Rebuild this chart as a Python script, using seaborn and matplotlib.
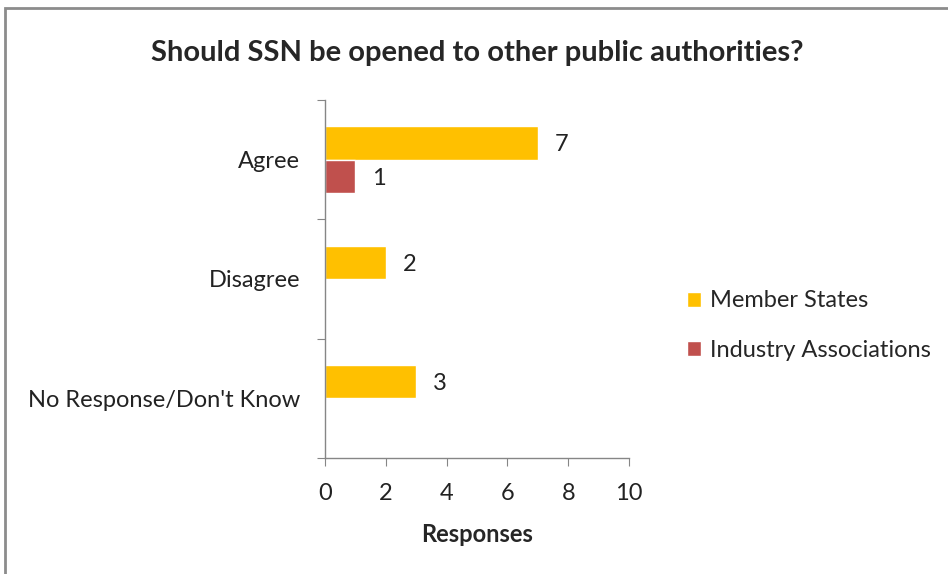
import pandas as pd
import numpy as np
import matplotlib.pyplot as plt
import seaborn as sns
from matplotlib.patches import Rectangle

# --- data ---
categories = ["Agree", "Disagree", "No Response/Don't Know"]
series = ["Member States", "Industry Associations"]
member_states = [7, 2, 3]
industry_assoc = [1, 0, 0]
colors = ["#FFC000", "#C0504D"]

df = pd.DataFrame({
    "category": categories * 2,
    "group": [series[0]] * 3 + [series[1]] * 3,
    "value": member_states + industry_assoc,
})

sns.set_style("white")
plt.rcParams['font.family'] = ['Lato', 'DejaVu Sans']

fig = plt.figure(figsize=(9.48, 5.74), dpi=100)
ax = fig.add_axes([0.3428, 0.2021, 0.3207, 0.6237])

sns.barplot(data=df, y="category", x="value", hue="group", orient="h",
            order=categories, hue_order=series, palette=colors,
            saturation=1, width=0.56, ax=ax, legend=True)

# value labels, skip empty series
for cont in ax.containers:
    labels = [f"{v:.0f}" if v > 0 else "" for v in cont.datavalues]
    texts = ax.bar_label(cont, labels=labels, padding=12, fontsize=17, color="#222222")
    for t in texts:
        t.set_verticalalignment("center_baseline")

ax.set_xlim(0, 10)
ax.set_xticks(range(0, 11, 2))
ax.set_ylim(2.5, -0.5)
ax.set_yticks([-0.5, 0.5, 1.5, 2.5])
ax.set_yticklabels([])
ax.set_yticks(range(len(categories)), minor=True)
ax.set_yticklabels(categories, minor=True)
ax.tick_params(axis="y", which="major", length=6, color="#868686", direction="out", left=True)
ax.tick_params(axis="y", which="minor", length=0, pad=18, labelsize=17, labelcolor="#222222")
ax.tick_params(axis="x", length=6, color="#868686", direction="out", bottom=True,
               pad=12, labelsize=17, labelcolor="#222222")

ax.set_ylabel("")
ax.set_xlabel("Responses", fontsize=17, fontweight="bold", labelpad=14)
ax.set_title("Should SSN be opened to other public authorities?", fontsize=21,
             fontweight="bold", pad=28)

for s in ["top", "right"]:
    ax.spines[s].set_visible(False)
for s in ["left", "bottom"]:
    ax.spines[s].set_color("#868686")
    ax.spines[s].set_linewidth(1)

leg = ax.legend(loc="center left", bbox_to_anchor=(1.12, 0.37), frameon=False,
                fontsize=17, handlelength=0.6, handleheight=0.6,
                handletextpad=0.4, labelspacing=1.2)

# chart border like the source
fig.patches.append(Rectangle((5 / 948, -0.05), 1.2, 1 - 8 / 574 + 0.05,
                             transform=fig.transFigure, fill=False,
                             edgecolor="#8c8c8c", linewidth=2))

fig.savefig("out.png", dpi=100)
